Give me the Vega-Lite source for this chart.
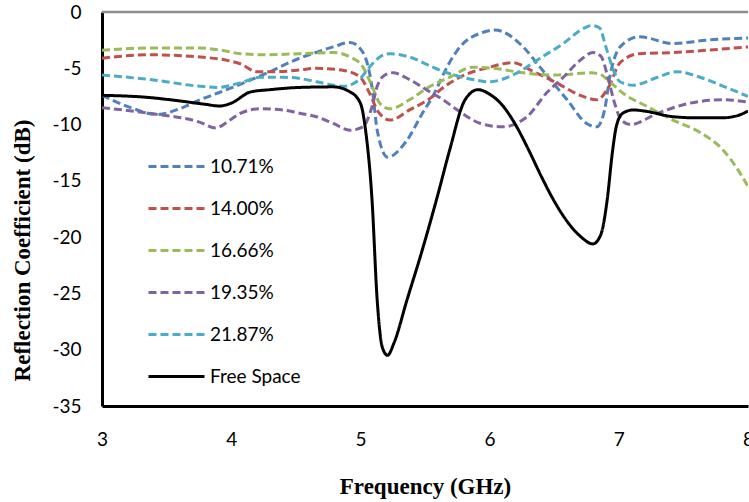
{
  "$schema": "https://vega.github.io/schema/vega-lite/v6.json",
  "width": 646,
  "height": 394,
  "autosize": "none",
  "padding": {"left": 102, "top": 12, "right": 1, "bottom": 96},
  "background": "white",
  "config": {
    "view": {"stroke": null},
    "axis": {
      "domainColor": "black",
      "domainWidth": 3,
      "ticks": false,
      "grid": false,
      "labelFont": "Lato",
      "labelFontSize": 19,
      "labelColor": "black",
      "labelFlush": false,
      "labelExpr": "'' + datum.value",
      "titleFont": "Liberation Serif",
      "titleFontWeight": "bold",
      "titleFontSize": 23,
      "titleColor": "black"
    },
    "legend": {
      "orient": "none",
      "legendX": 45,
      "legendY": 125,
      "symbolType": "stroke",
      "symbolSize": 3136,
      "symbolStrokeWidth": 3,
      "labelFont": "Lato",
      "labelFontSize": 19,
      "labelColor": "black",
      "labelOffset": 4,
      "rowPadding": 2,
      "padding": 0
    }
  },
  "datasets": {
    "curves": [
      {"s": "10.71%", "f": 3.0, "v": -7.4},
      {"s": "10.71%", "f": 3.2, "v": -8.4},
      {"s": "10.71%", "f": 3.43, "v": -9.1},
      {"s": "10.71%", "f": 3.6, "v": -8.6},
      {"s": "10.71%", "f": 3.76, "v": -7.8},
      {"s": "10.71%", "f": 4.01, "v": -6.7},
      {"s": "10.71%", "f": 4.28, "v": -5.4},
      {"s": "10.71%", "f": 4.53, "v": -4.1},
      {"s": "10.71%", "f": 4.63, "v": -3.7},
      {"s": "10.71%", "f": 4.79, "v": -3.1},
      {"s": "10.71%", "f": 4.92, "v": -2.7},
      {"s": "10.71%", "f": 5.02, "v": -3.6},
      {"s": "10.71%", "f": 5.09, "v": -6.7},
      {"s": "10.71%", "f": 5.13, "v": -10.5},
      {"s": "10.71%", "f": 5.21, "v": -12.9},
      {"s": "10.71%", "f": 5.36, "v": -11.4},
      {"s": "10.71%", "f": 5.48, "v": -9.0},
      {"s": "10.71%", "f": 5.56, "v": -7.5},
      {"s": "10.71%", "f": 5.67, "v": -4.9},
      {"s": "10.71%", "f": 5.75, "v": -3.4},
      {"s": "10.71%", "f": 5.95, "v": -1.8},
      {"s": "10.71%", "f": 6.04, "v": -1.6},
      {"s": "10.71%", "f": 6.26, "v": -3.1},
      {"s": "10.71%", "f": 6.39, "v": -4.9},
      {"s": "10.71%", "f": 6.6, "v": -7.8},
      {"s": "10.71%", "f": 6.75, "v": -9.9},
      {"s": "10.71%", "f": 6.83, "v": -10.2},
      {"s": "10.71%", "f": 6.89, "v": -8.7},
      {"s": "10.71%", "f": 6.93, "v": -5.8},
      {"s": "10.71%", "f": 7.01, "v": -3.1},
      {"s": "10.71%", "f": 7.16, "v": -2.2},
      {"s": "10.71%", "f": 7.42, "v": -2.8},
      {"s": "10.71%", "f": 7.68, "v": -2.5},
      {"s": "10.71%", "f": 8.0, "v": -2.3},

      {"s": "14.00%", "f": 3.0, "v": -4.1},
      {"s": "14.00%", "f": 3.37, "v": -3.8},
      {"s": "14.00%", "f": 3.76, "v": -4.0},
      {"s": "14.00%", "f": 3.97, "v": -4.3},
      {"s": "14.00%", "f": 4.07, "v": -4.6},
      {"s": "14.00%", "f": 4.2, "v": -5.3},
      {"s": "14.00%", "f": 4.35, "v": -5.3},
      {"s": "14.00%", "f": 4.53, "v": -5.15},
      {"s": "14.00%", "f": 4.66, "v": -5.0},
      {"s": "14.00%", "f": 4.87, "v": -5.2},
      {"s": "14.00%", "f": 5.0, "v": -5.8},
      {"s": "14.00%", "f": 5.07, "v": -7.2},
      {"s": "14.00%", "f": 5.14, "v": -8.9},
      {"s": "14.00%", "f": 5.23, "v": -9.6},
      {"s": "14.00%", "f": 5.38, "v": -8.7},
      {"s": "14.00%", "f": 5.56, "v": -7.5},
      {"s": "14.00%", "f": 5.62, "v": -6.9},
      {"s": "14.00%", "f": 5.77, "v": -5.8},
      {"s": "14.00%", "f": 6.0, "v": -4.9},
      {"s": "14.00%", "f": 6.18, "v": -4.5},
      {"s": "14.00%", "f": 6.34, "v": -5.3},
      {"s": "14.00%", "f": 6.52, "v": -6.3},
      {"s": "14.00%", "f": 6.7, "v": -7.4},
      {"s": "14.00%", "f": 6.83, "v": -7.8},
      {"s": "14.00%", "f": 6.92, "v": -6.7},
      {"s": "14.00%", "f": 7.01, "v": -4.5},
      {"s": "14.00%", "f": 7.16, "v": -3.7},
      {"s": "14.00%", "f": 7.42, "v": -3.6},
      {"s": "14.00%", "f": 7.68, "v": -3.4},
      {"s": "14.00%", "f": 8.0, "v": -3.1},

      {"s": "16.66%", "f": 3.0, "v": -3.4},
      {"s": "16.66%", "f": 3.37, "v": -3.2},
      {"s": "16.66%", "f": 3.76, "v": -3.2},
      {"s": "16.66%", "f": 3.95, "v": -3.45},
      {"s": "16.66%", "f": 4.07, "v": -3.7},
      {"s": "16.66%", "f": 4.28, "v": -3.8},
      {"s": "16.66%", "f": 4.53, "v": -3.7},
      {"s": "16.66%", "f": 4.79, "v": -3.6},
      {"s": "16.66%", "f": 4.92, "v": -4.0},
      {"s": "16.66%", "f": 5.02, "v": -4.9},
      {"s": "16.66%", "f": 5.09, "v": -6.6},
      {"s": "16.66%", "f": 5.15, "v": -8.1},
      {"s": "16.66%", "f": 5.23, "v": -8.6},
      {"s": "16.66%", "f": 5.38, "v": -7.8},
      {"s": "16.66%", "f": 5.54, "v": -6.6},
      {"s": "16.66%", "f": 5.69, "v": -5.8},
      {"s": "16.66%", "f": 5.87, "v": -4.9},
      {"s": "16.66%", "f": 6.03, "v": -5.0},
      {"s": "16.66%", "f": 6.26, "v": -5.4},
      {"s": "16.66%", "f": 6.52, "v": -5.6},
      {"s": "16.66%", "f": 6.78, "v": -5.4},
      {"s": "16.66%", "f": 6.85, "v": -5.5},
      {"s": "16.66%", "f": 6.93, "v": -6.2},
      {"s": "16.66%", "f": 7.03, "v": -7.2},
      {"s": "16.66%", "f": 7.22, "v": -8.4},
      {"s": "16.66%", "f": 7.42, "v": -9.6},
      {"s": "16.66%", "f": 7.63, "v": -10.7},
      {"s": "16.66%", "f": 7.81, "v": -12.3},
      {"s": "16.66%", "f": 7.91, "v": -13.8},
      {"s": "16.66%", "f": 8.0, "v": -15.5},

      {"s": "19.35%", "f": 3.0, "v": -8.5},
      {"s": "19.35%", "f": 3.37, "v": -9.0},
      {"s": "19.35%", "f": 3.76, "v": -9.8},
      {"s": "19.35%", "f": 3.88, "v": -10.3},
      {"s": "19.35%", "f": 3.99, "v": -9.6},
      {"s": "19.35%", "f": 4.07, "v": -9.0},
      {"s": "19.35%", "f": 4.22, "v": -8.6},
      {"s": "19.35%", "f": 4.4, "v": -8.7},
      {"s": "19.35%", "f": 4.53, "v": -9.0},
      {"s": "19.35%", "f": 4.66, "v": -9.3},
      {"s": "19.35%", "f": 4.79, "v": -9.9},
      {"s": "19.35%", "f": 4.92, "v": -10.5},
      {"s": "19.35%", "f": 5.02, "v": -10.2},
      {"s": "19.35%", "f": 5.09, "v": -8.4},
      {"s": "19.35%", "f": 5.13, "v": -6.6},
      {"s": "19.35%", "f": 5.19, "v": -5.6},
      {"s": "19.35%", "f": 5.25, "v": -5.4},
      {"s": "19.35%", "f": 5.38, "v": -6.0},
      {"s": "19.35%", "f": 5.51, "v": -6.9},
      {"s": "19.35%", "f": 5.64, "v": -7.8},
      {"s": "19.35%", "f": 5.75, "v": -8.7},
      {"s": "19.35%", "f": 5.93, "v": -9.9},
      {"s": "19.35%", "f": 6.1, "v": -10.2},
      {"s": "19.35%", "f": 6.29, "v": -9.3},
      {"s": "19.35%", "f": 6.44, "v": -7.2},
      {"s": "19.35%", "f": 6.57, "v": -5.8},
      {"s": "19.35%", "f": 6.7, "v": -4.3},
      {"s": "19.35%", "f": 6.8, "v": -3.6},
      {"s": "19.35%", "f": 6.86, "v": -3.9},
      {"s": "19.35%", "f": 6.92, "v": -6.0},
      {"s": "19.35%", "f": 6.97, "v": -8.2},
      {"s": "19.35%", "f": 7.02, "v": -9.6},
      {"s": "19.35%", "f": 7.09, "v": -10.0},
      {"s": "19.35%", "f": 7.3, "v": -9.0},
      {"s": "19.35%", "f": 7.55, "v": -8.1},
      {"s": "19.35%", "f": 7.81, "v": -7.8},
      {"s": "19.35%", "f": 8.0, "v": -8.0},

      {"s": "21.87%", "f": 3.0, "v": -5.6},
      {"s": "21.87%", "f": 3.37, "v": -6.0},
      {"s": "21.87%", "f": 3.76, "v": -6.6},
      {"s": "21.87%", "f": 3.89, "v": -6.7},
      {"s": "21.87%", "f": 4.07, "v": -6.3},
      {"s": "21.87%", "f": 4.22, "v": -5.8},
      {"s": "21.87%", "f": 4.4, "v": -5.8},
      {"s": "21.87%", "f": 4.53, "v": -5.9},
      {"s": "21.87%", "f": 4.66, "v": -6.2},
      {"s": "21.87%", "f": 4.87, "v": -6.6},
      {"s": "21.87%", "f": 5.0, "v": -5.9},
      {"s": "21.87%", "f": 5.07, "v": -4.9},
      {"s": "21.87%", "f": 5.15, "v": -4.0},
      {"s": "21.87%", "f": 5.23, "v": -3.7},
      {"s": "21.87%", "f": 5.38, "v": -4.0},
      {"s": "21.87%", "f": 5.56, "v": -4.9},
      {"s": "21.87%", "f": 5.67, "v": -5.4},
      {"s": "21.87%", "f": 5.87, "v": -6.0},
      {"s": "21.87%", "f": 6.0, "v": -6.2},
      {"s": "21.87%", "f": 6.18, "v": -5.6},
      {"s": "21.87%", "f": 6.39, "v": -4.1},
      {"s": "21.87%", "f": 6.57, "v": -2.8},
      {"s": "21.87%", "f": 6.72, "v": -1.5},
      {"s": "21.87%", "f": 6.79, "v": -1.2},
      {"s": "21.87%", "f": 6.85, "v": -1.4},
      {"s": "21.87%", "f": 6.9, "v": -3.1},
      {"s": "21.87%", "f": 6.95, "v": -4.9},
      {"s": "21.87%", "f": 7.01, "v": -6.2},
      {"s": "21.87%", "f": 7.11, "v": -6.5},
      {"s": "21.87%", "f": 7.3, "v": -5.8},
      {"s": "21.87%", "f": 7.45, "v": -5.3},
      {"s": "21.87%", "f": 7.63, "v": -5.8},
      {"s": "21.87%", "f": 7.81, "v": -6.6},
      {"s": "21.87%", "f": 8.0, "v": -7.5},

      {"s": "Free Space", "f": 3.0, "v": -7.4},
      {"s": "Free Space", "f": 3.37, "v": -7.6},
      {"s": "Free Space", "f": 3.6, "v": -7.9},
      {"s": "Free Space", "f": 3.8, "v": -8.2},
      {"s": "Free Space", "f": 3.91, "v": -8.35},
      {"s": "Free Space", "f": 4.0, "v": -8.1},
      {"s": "Free Space", "f": 4.15, "v": -7.1},
      {"s": "Free Space", "f": 4.3, "v": -6.9},
      {"s": "Free Space", "f": 4.53, "v": -6.7},
      {"s": "Free Space", "f": 4.79, "v": -6.65},
      {"s": "Free Space", "f": 4.92, "v": -7.1},
      {"s": "Free Space", "f": 5.0, "v": -8.1},
      {"s": "Free Space", "f": 5.04, "v": -10.5},
      {"s": "Free Space", "f": 5.09, "v": -16.7},
      {"s": "Free Space", "f": 5.13, "v": -25.6},
      {"s": "Free Space", "f": 5.17, "v": -29.8},
      {"s": "Free Space", "f": 5.21, "v": -30.5},
      {"s": "Free Space", "f": 5.26, "v": -29.4},
      {"s": "Free Space", "f": 5.36, "v": -25.6},
      {"s": "Free Space", "f": 5.48, "v": -21.1},
      {"s": "Free Space", "f": 5.6, "v": -16.2},
      {"s": "Free Space", "f": 5.69, "v": -12.3},
      {"s": "Free Space", "f": 5.81, "v": -7.8},
      {"s": "Free Space", "f": 5.91, "v": -6.9},
      {"s": "Free Space", "f": 6.0, "v": -7.3},
      {"s": "Free Space", "f": 6.1, "v": -8.3},
      {"s": "Free Space", "f": 6.2, "v": -10.0},
      {"s": "Free Space", "f": 6.3, "v": -12.2},
      {"s": "Free Space", "f": 6.4, "v": -14.6},
      {"s": "Free Space", "f": 6.5, "v": -16.8},
      {"s": "Free Space", "f": 6.6, "v": -18.6},
      {"s": "Free Space", "f": 6.7, "v": -19.9},
      {"s": "Free Space", "f": 6.8, "v": -20.6},
      {"s": "Free Space", "f": 6.86, "v": -19.8},
      {"s": "Free Space", "f": 6.91, "v": -16.7},
      {"s": "Free Space", "f": 6.95, "v": -12.5},
      {"s": "Free Space", "f": 6.98, "v": -10.2},
      {"s": "Free Space", "f": 7.03, "v": -9.0},
      {"s": "Free Space", "f": 7.11, "v": -8.7},
      {"s": "Free Space", "f": 7.2, "v": -8.8},
      {"s": "Free Space", "f": 7.42, "v": -9.3},
      {"s": "Free Space", "f": 7.6, "v": -9.4},
      {"s": "Free Space", "f": 7.8, "v": -9.4},
      {"s": "Free Space", "f": 7.92, "v": -9.2},
      {"s": "Free Space", "f": 8.0, "v": -8.8}
    ],
    "border": [{"v": 0}]
  },
  "layer": [
    {
      "data": {"name": "border"},
      "mark": {"type": "rule", "color": "#8c8c8c", "strokeWidth": 2.5},
      "encoding": {
        "y": {"field": "v", "type": "quantitative"}
      }
    },
    {
      "data": {"name": "curves"},
      "mark": {"type": "line", "interpolate": "monotone", "clip": true},
      "encoding": {
        "x": {
          "field": "f",
          "type": "quantitative",
          "scale": {"domain": [3, 8], "nice": false, "zero": false},
          "axis": {"values": [3, 4, 5, 6, 7, 8], "labelPadding": 24, "title": "Frequency (GHz)", "titleY": 80, "titleBaseline": "middle"}
        },
        "y": {
          "field": "v",
          "type": "quantitative",
          "scale": {"domain": [-35, 0], "nice": false, "zero": false},
          "axis": {"values": [-35, -30, -25, -20, -15, -10, -5, 0], "labelPadding": 21, "title": "Reflection Coefficient (dB)", "titleX": -80, "titleY": 238, "titleAngle": 270, "titleAlign": "center", "titleBaseline": "middle"}
        },
        "color": {
          "field": "s",
          "type": "nominal",
          "scale": {
            "domain": ["10.71%", "14.00%", "16.66%", "19.35%", "21.87%", "Free Space"],
            "range": ["#4F81BD", "#C0504D", "#9BBB59", "#8064A2", "#4BACC6", "#000000"]
          },
          "legend": {"title": null}
        },
        "strokeDash": {
          "field": "s",
          "type": "nominal",
          "scale": {
            "domain": ["10.71%", "14.00%", "16.66%", "19.35%", "21.87%", "Free Space"],
            "range": [[8, 4], [8, 4], [8, 4], [8, 4], [8, 4], [1, 0]]
          },
          "legend": {"title": null}
        },
        "strokeWidth": {
          "field": "s",
          "type": "nominal",
          "scale": {
            "domain": ["10.71%", "14.00%", "16.66%", "19.35%", "21.87%", "Free Space"],
            "range": [3, 3, 3, 3, 3, 3.5]
          },
          "legend": null
        }
      }
    }
  ]
}
